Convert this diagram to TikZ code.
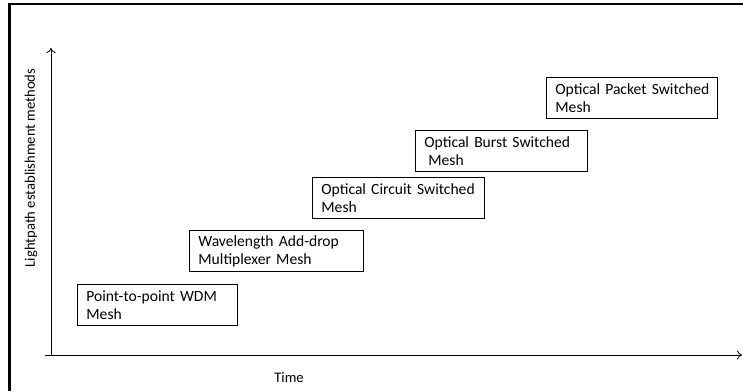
\documentclass[tikz,border=0pt]{standalone}
\usepackage{fontspec}
\setmainfont{Carlito}
\usetikzlibrary{arrows.meta}
\begin{document}
\begin{tikzpicture}[x=1pt,y=-1pt,
  box/.style={draw, line width=0.8pt, anchor=north west, inner xsep=9pt, inner ysep=0pt,
    align=left, font=\fontsize{15.6}{18}\selectfont, minimum height=41pt},
  axis/.style={line width=0.8pt, -{To[length=5pt,width=9pt]}},
  lbl/.style={font=\fontsize{14.6}{17}\selectfont}]
\useasboundingbox (0,0) rectangle (743,391);
% outer frame (left and top edges visible)
\draw[line width=2.6pt] (9.5,391) -- (9.5,4) -- (743,4);
% axes
\coordinate (o) at (51,355);
\coordinate (ytip) at (51,48);
\coordinate (xs) at (45,355);
\coordinate (xtip) at (742,355);
\draw[axis] (o) -- (ytip);
\draw[axis] (xs) -- (xtip);
% labels
\node[lbl, rotate=90] (ylab) at (31,168) {Lightpath establishment methods};
\node[lbl] (tlab) at (289,378) {Time};
% boxes
\node[box, text width=142pt] (b1) at (77,284) {Point-to-point~WDM\\Mesh};
\node[box, text width=156pt] (b2) at (189,230) {Wavelength~Add-drop\\Multiplexer Mesh};
\node[box, text width=154pt] (b3) at (312,177) {Optical~Circuit~Switched\\Mesh};
\node[box, text width=154pt] (b4) at (415,130) {Optical~Burst~Switched\\\hspace*{0.25em}Mesh};
\node[box, text width=153pt] (b5) at (546,77) {Optical~Packet~Switched\\Mesh};
\end{tikzpicture}
\end{document}
